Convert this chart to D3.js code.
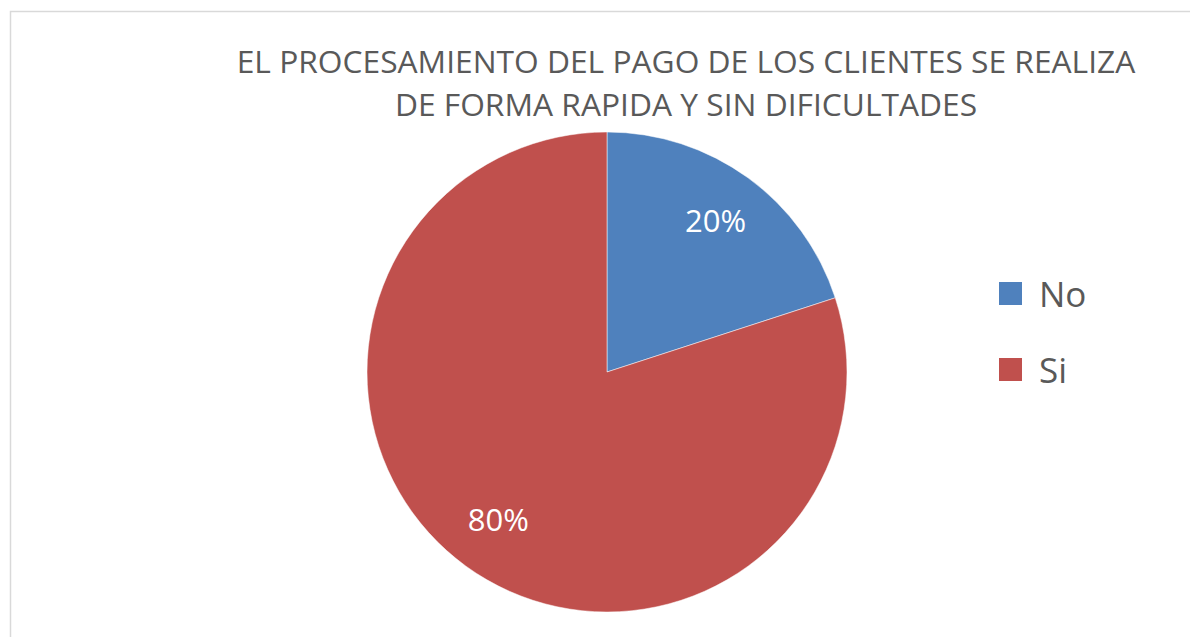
<!DOCTYPE html>
<html>
<head>
<meta charset="utf-8">
<script src="https://cdn.jsdelivr.net/npm/d3@7"></script>
<style>
  html, body { margin: 0; padding: 0; background: #fff; overflow: hidden; }
</style>
</head>
<body>
<div id="chart"></div>
<script>
// Pie chart: payment processing survey answers
var categories = ['No', 'Si'];
var values = [20, 80];
var labels = ['20%', '80%'];
var titleLines = [
  'EL PROCESAMIENTO DEL PAGO DE LOS CLIENTES SE REALIZA',
  'DE FORMA RAPIDA Y SIN DIFICULTADES'
];

var width = 1190, height = 637;
var fontFamily = '"Open Sans", "Liberation Sans", sans-serif';
var color = d3.scaleOrdinal().domain(categories).range(['#4f81bd', '#c0504d']);

var svg = d3.select('#chart').append('svg')
  .attr('width', width)
  .attr('height', height);

// chart area border (runs off the right and bottom edges)
svg.append('rect')
  .attr('x', 10.5).attr('y', 11.5)
  .attr('width', width + 20).attr('height', height + 20)
  .attr('fill', '#fff')
  .attr('stroke', '#d9d9d9')
  .attr('stroke-width', 1.5);

// title, two centred lines
var title = svg.append('g')
  .attr('font-family', fontFamily)
  .attr('fill', '#595959')
  .attr('text-anchor', 'middle');

var titleText = title.selectAll('text')
  .data(titleLines)
  .enter().append('text')
  .attr('x', 686)
  .attr('y', function(d, i) { return 73 + i * 43; })
  .style('font-size', '30px')
  .text(function(d) { return d; });

// size the font so the first line spans the same width as the original
var w0 = titleText.node().getComputedTextLength();
titleText.style('font-size', (30 * 899 / w0) + 'px');

// pie
var cx = 607, cy = 372, radius = 240;
var pie = d3.pie().sort(null).value(function(d) { return d; });
var arc = d3.arc().innerRadius(0).outerRadius(radius);
var labelArc = d3.arc().innerRadius(radius * 0.77).outerRadius(radius * 0.77);

var g = svg.append('g').attr('transform', 'translate(' + cx + ',' + cy + ')');
var slices = pie(values);

g.selectAll('path')
  .data(slices)
  .enter().append('path')
  .attr('d', arc)
  .attr('fill', function(d, i) { return color(categories[i]); })
  .attr('stroke', '#fff')
  .attr('stroke-width', 0.5);

g.selectAll('text')
  .data(slices)
  .enter().append('text')
  .attr('transform', function(d) { return 'translate(' + labelArc.centroid(d) + ')'; })
  .attr('dy', '0.3em')
  .attr('text-anchor', 'middle')
  .attr('font-family', fontFamily)
  .style('font-size', '31px')
  .attr('fill', '#fff')
  .text(function(d, i) { return labels[i]; });

// legend
var legend = svg.append('g')
  .attr('transform', 'translate(999,282)')
  .selectAll('g')
  .data(categories)
  .enter().append('g')
  .attr('transform', function(d, i) { return 'translate(0,' + i * 76 + ')'; });

legend.append('rect')
  .attr('width', 23).attr('height', 23)
  .attr('fill', function(d) { return color(d); });

legend.append('text')
  .attr('x', 40)
  .attr('y', 12)
  .attr('dy', '0.36em')
  .attr('font-family', fontFamily)
  .style('font-size', '35px')
  .attr('fill', '#595959')
  .text(function(d) { return d; });
</script>
</body>
</html>
